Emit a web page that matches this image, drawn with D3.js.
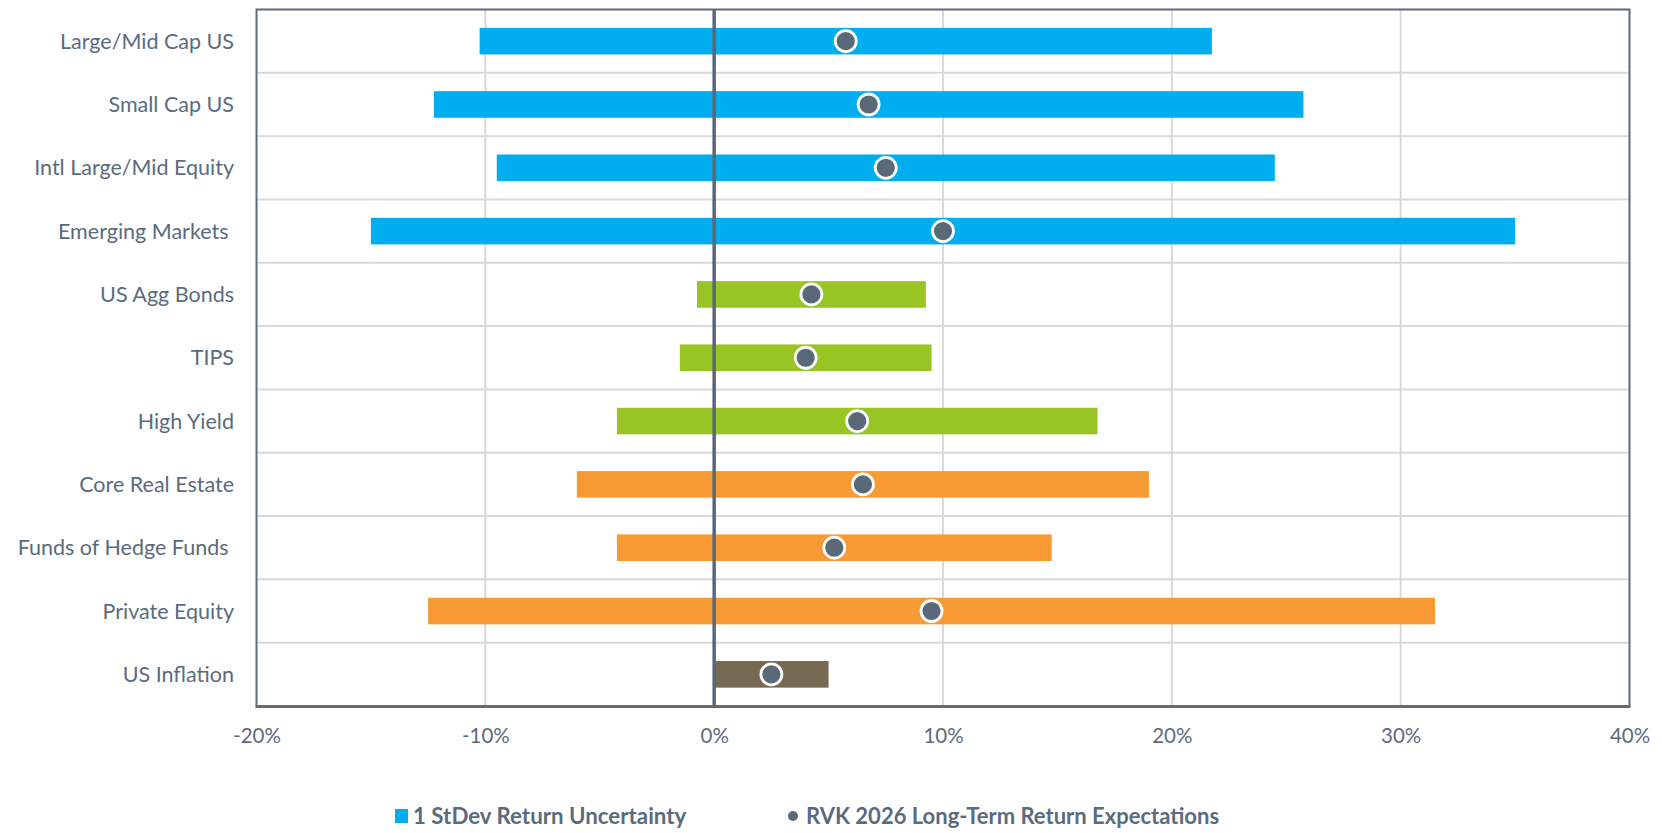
<!DOCTYPE html>
<html><head><meta charset="utf-8">
<script src="https://cdn.jsdelivr.net/npm/d3@7"></script>
<style>body{margin:0;background:#fff;} svg{display:block;}</style>
</head><body>
<svg id="c" width="1662" height="833"></svg>
<script>
const categories = ["Large/Mid Cap US","Small Cap US","Intl Large/Mid Equity","Emerging Markets ","US Agg Bonds","TIPS","High Yield","Core Real Estate","Funds of Hedge Funds ","Private Equity","US Inflation"];
const lowValues  = [-10.25,-12.25,-9.5,-15,-0.75,-1.5,-4.25,-6,-4.25,-12.5,0];
const highValues = [21.75,25.75,24.5,35,9.25,9.5,16.75,19,14.75,31.5,5];
const expected   = [5.75,6.75,7.5,10,4.25,4.0,6.25,6.5,5.25,9.5,2.5];
const groups     = ["equity","equity","equity","equity","fixed","fixed","fixed","real","real","real","infl"];
const xTicks     = [-20,-10,0,10,20,30,40];
const legendLabels = ["1 StDev Return Uncertainty","RVK 2026 Long-Term Return Expectations"];

const colors = {equity:"#00ADEE", fixed:"#98C424", real:"#F79A33", infl:"#766A53"};
const textColor = "#5B6B7E";
const font = "Lato, 'Open Sans', sans-serif";

const svg = d3.select("#c");
const L = 256.5, R = 1629.5, T = 9.5, B = 706;
const x = d3.scaleLinear().domain([-20,40]).range([L,R]);
const y = d3.scaleBand().domain(categories).range([T,B]).padding(0);
const barH = y.bandwidth()*0.42;

// grid
svg.append("g").selectAll("line.v").data(xTicks.slice(1,-1)).join("line")
  .attr("x1",d=>x(d)).attr("x2",d=>x(d)).attr("y1",T).attr("y2",B)
  .attr("stroke","#D9D9D9").attr("stroke-width",2);
svg.append("g").selectAll("line.h").data(categories.slice(1)).join("line")
  .attr("x1",L).attr("x2",R).attr("y1",d=>y(d)).attr("y2",d=>y(d))
  .attr("stroke","#D9D9D9").attr("stroke-width",2);

// bars
svg.append("g").selectAll("rect").data(categories).join("rect")
  .attr("x",(d,i)=>x(lowValues[i]))
  .attr("width",(d,i)=>x(highValues[i])-x(lowValues[i]))
  .attr("y",d=>y(d)+y.bandwidth()/2-barH/2)
  .attr("height",barH)
  .attr("fill",(d,i)=>colors[groups[i]]);

// border
svg.append("path").attr("d",`M${L},${B}V${T}H${R}V${B}`).attr("fill","none")
  .attr("stroke","#5F6B7A").attr("stroke-width",2);
svg.append("line").attr("x1",L-1).attr("x2",R+1).attr("y1",B+0.5).attr("y2",B+0.5)
  .attr("stroke","#6A6A6A").attr("stroke-width",3);

// zero line
svg.append("line").attr("x1",x(0)).attr("x2",x(0)).attr("y1",T).attr("y2",B)
  .attr("stroke","#5B6776").attr("stroke-width",3.5);

// dots
svg.append("g").selectAll("circle").data(categories).join("circle")
  .attr("cx",(d,i)=>x(expected[i]))
  .attr("cy",d=>y(d)+y.bandwidth()/2)
  .attr("r",10.5)
  .attr("fill","#5A6978").attr("stroke","#fff").attr("stroke-width",2.8);

// y labels
svg.append("g").selectAll("text").data(categories).join("text")
  .attr("x",234).attr("y",d=>y(d)+y.bandwidth()/2)
  .attr("dy","0.35em").attr("text-anchor","end")
  .attr("xml:space","preserve").style("white-space","pre")
  .attr("font-family",font).attr("font-size",21.5).attr("fill",textColor)
  .text(d=>d);

// x labels
const xAxis = d3.axisBottom(x).tickValues(xTicks).tickFormat(d=>d+"%").tickSize(0);
const gx = svg.append("g").attr("transform",`translate(0,${B})`).call(xAxis);
gx.select(".domain").remove();
gx.selectAll("text").attr("y",30).attr("dy","0.35em")
  .attr("font-family",font).attr("font-size",20.5).attr("fill",textColor);

// legend
const ly = 816;
const lg = svg.append("g");
lg.append("rect").attr("x",395).attr("y",ly-7).attr("width",13).attr("height",14).attr("fill",colors.equity);
lg.append("text").attr("x",413).attr("y",ly).attr("dy","0.35em")
  .attr("font-family",font).attr("font-size",22.3).attr("font-weight","bold").attr("fill",textColor)
  .text(legendLabels[0]);
lg.append("circle").attr("cx",793).attr("cy",ly).attr("r",5).attr("fill","#5A6978");
lg.append("text").attr("x",806).attr("y",ly).attr("dy","0.35em")
  .attr("font-family",font).attr("font-size",22).attr("font-weight","bold").attr("fill",textColor)
  .text(legendLabels[1]);
</script>
</body></html>
